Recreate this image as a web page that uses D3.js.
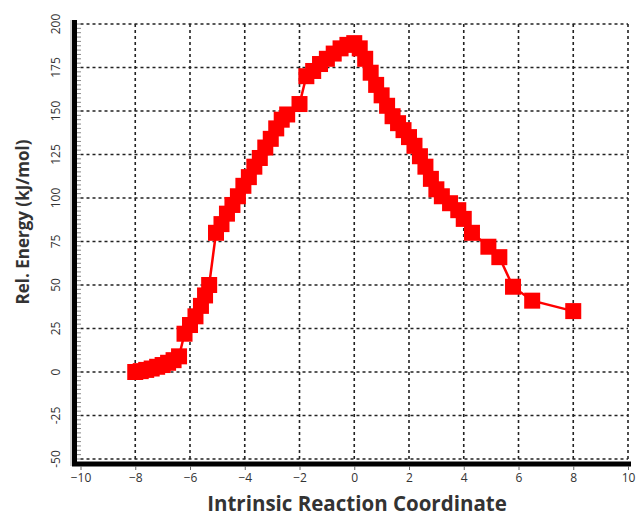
<!DOCTYPE html>
<html>
<head>
<meta charset="utf-8">
<script src="https://cdn.jsdelivr.net/npm/d3@7"></script>
<style>
html,body{margin:0;padding:0;background:#fff;}
svg{display:block;}
</style>
</head>
<body>
<svg id="chart" width="638" height="517"></svg>
<script>
const ircValues = [-8.0,-7.8,-7.6,-7.4,-7.2,-7.0,-6.8,-6.6,-6.4,-6.2,-6.0,-5.8,-5.6,-5.45,-5.3,-5.05,-4.85,-4.65,-4.45,-4.25,-4.05,-3.85,-3.65,-3.45,-3.25,-3.05,-2.85,-2.65,-2.45,-2.0,-1.75,-1.5,-1.25,-1.0,-0.75,-0.5,-0.25,0.0,0.2,0.4,0.6,0.8,1.0,1.2,1.4,1.6,1.8,2.0,2.2,2.4,2.6,2.8,3.0,3.2,3.5,3.8,4.0,4.3,4.9,5.3,5.8,6.5,8.0];
const energyValues = [0,0.5,1.2,2,3,4,5.3,6.8,9,22,27,32,38,44,50,80,85,91,96,101,107,112,118,123,129,134,140,145,148,154,170,173,177,180,183,186,188,189,186,180,172,165,159,153,147,143,139,135,130,124,118,111,105,101,97,93,88,80,72,66,49,41,35];
const xTicks = [-10,-8,-6,-4,-2,0,2,4,6,8,10];
const yTicks = [-50,-25,0,25,50,75,100,125,150,175,200];
const xTitle = "Intrinsic Reaction Coordinate";
const yTitle = "Rel. Energy (kJ/mol)";

const svg = d3.select("#chart");
const x = d3.scaleLinear().domain([-10,10]).range([80.5,628]);
const y = d3.scaleLinear().domain([-50,200]).range([459,24]);

// grid
const grid = svg.append("g");
grid.selectAll("line.h").data(yTicks).join("line")
  .attr("x1", x(-10)).attr("x2", x(10))
  .attr("y1", d => y(d)).attr("y2", d => y(d))
  .attr("stroke", "#222").attr("stroke-width", 1.6).attr("stroke-dasharray", "3,3");
grid.selectAll("line.v").data(xTicks.filter(d => d > -10)).join("line")
  .attr("y1", y(-50)).attr("y2", y(200))
  .attr("x1", d => x(d)).attr("x2", d => x(d))
  .attr("stroke", "#222").attr("stroke-width", 1.6).attr("stroke-dasharray", "3,3");

// minor ticks on y axis
const minor = d3.range(-50, 200.01, 2.5);
svg.append("g").selectAll("line").data(minor).join("line")
  .attr("x1", 77).attr("x2", 81)
  .attr("y1", d => y(d)).attr("y2", d => y(d))
  .attr("stroke", "#888").attr("stroke-width", 1);

// axes lines
svg.append("line").attr("x1", 74.5).attr("x2", 74.5).attr("y1", 20).attr("y2", 466)
  .attr("stroke", "#000").attr("stroke-width", 5);
svg.append("line").attr("x1", 71).attr("x2", 71).attr("y1", 20).attr("y2", 466)
  .attr("stroke", "#aaa").attr("stroke-width", 1);
svg.append("line").attr("x1", 72).attr("x2", 631).attr("y1", 464).attr("y2", 464)
  .attr("stroke", "#000").attr("stroke-width", 5);

// x axis ticks & labels
const xAxis = d3.axisBottom(x).tickValues(xTicks).tickSize(4).tickFormat(d3.format("d"));
const gx = svg.append("g").attr("transform", "translate(0,466)").call(xAxis);
gx.select(".domain").remove();
gx.selectAll(".tick line").attr("stroke", "#666");
gx.selectAll(".tick text").attr("font-family", "Open Sans, sans-serif").attr("font-size", 12)
  .attr("fill", "#333").attr("dy", "0.75em").attr("y", 7);

// y axis labels (rotated)
svg.append("g").selectAll("text").data(yTicks).join("text")
  .attr("transform", d => `translate(60,${y(d)}) rotate(-90)`)
  .attr("text-anchor", "middle")
  .attr("font-family", "Open Sans, sans-serif").attr("font-size", 12).attr("fill", "#333")
  .text(d => d);

// line and markers
const data = ircValues.map((v,i) => ({x: v, y: energyValues[i]}));
svg.append("path").datum(data)
  .attr("d", d3.line().x(d => x(d.x)).y(d => y(d.y)))
  .attr("fill", "none").attr("stroke", "#ff0000").attr("stroke-width", 2.5);
const s = 16;
svg.append("g").selectAll("rect").data(data).join("rect")
  .attr("x", d => x(d.x) - s/2).attr("y", d => y(d.y) - s/2)
  .attr("width", s).attr("height", s).attr("fill", "#ff0000");

// titles
svg.append("text").attr("x", 357).attr("y", 511).attr("text-anchor", "middle")
  .attr("font-family", "Open Sans, sans-serif").attr("font-weight", "bold").attr("font-size", 20.5)
  .attr("fill", "#333").text(xTitle);
svg.append("text").attr("transform", "translate(29,222) rotate(-90)").attr("text-anchor", "middle")
  .attr("font-family", "Open Sans, sans-serif").attr("font-weight", "bold").attr("font-size", 17)
  .attr("fill", "#333").text(yTitle);
</script>
</body>
</html>
